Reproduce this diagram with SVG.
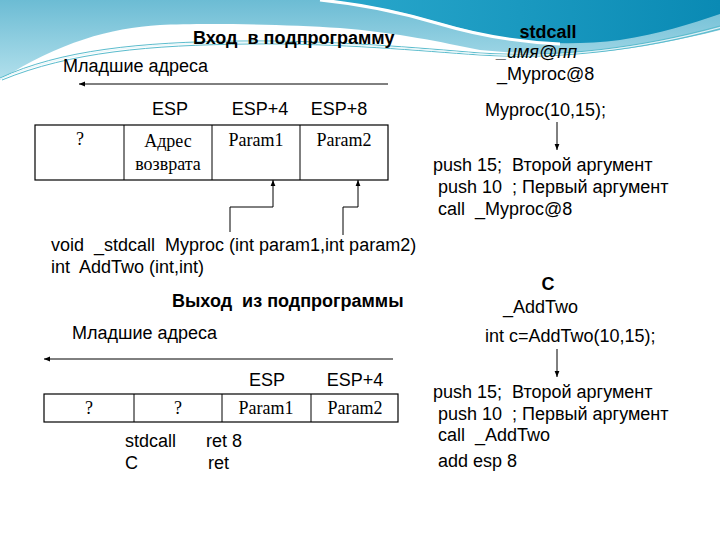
<svg xmlns="http://www.w3.org/2000/svg" width="720" height="540" viewBox="0 0 720 540">
<defs>
<linearGradient id="lb" x1="0" y1="0" x2="0" y2="1">
<stop offset="0" stop-color="#6cbcd4"/>
<stop offset="1" stop-color="#b2e0ec"/>
</linearGradient>
<linearGradient id="db" x1="0" y1="0" x2="1" y2="0">
<stop offset="0" stop-color="#2aa8cc"/>
<stop offset="1" stop-color="#0a8ab4"/>
</linearGradient>
<marker id="ah" viewBox="0 0 10 10" refX="10" refY="5" markerWidth="6" markerHeight="6" orient="auto" markerUnits="userSpaceOnUse">
<path d="M0,1 L10,5 L0,9 Z" fill="#000"/>
</marker>
<style>
text{white-space:pre}
.t{font-family:"Liberation Sans",Arial,sans-serif;font-size:18px;fill:#000}
.b{font-weight:bold}
.i{font-style:italic}
.s{font-family:"Liberation Serif","Times New Roman",serif;font-size:18px;fill:#000}
.c{fill:#fff;stroke:#000;stroke-width:1.2}
.ln{fill:none;stroke:#000;stroke-width:1}
.w{fill:none;stroke:#5bbccd;stroke-width:1}
</style>
</defs>
<rect width="720" height="540" fill="#fff"/>
<g id="background">
<path d="M0,0 H720 V30 C680,40 640,48 600,52 C560,55 520,54 480,50 C440,42 400,33 340,28 C280,24 200,23 160,25 C110,28 60,42 0,80 Z" fill="url(#lb)"/>
<path d="M320,0 H720 V14 C690,24 660,34 620,40 C590,44 560,44 530,42 C490,38 440,22 400,12 C370,6 350,2 320,0 Z" fill="url(#db)"/>
<path d="M320,0 C360,4 400,12 440,24 C480,36 520,42 560,44" fill="none" stroke="#fff" stroke-width="3"/>
<path class="w" d="M0,78 C60,50 140,42 240,41 C330,40 420,48 480,53 C560,58 640,48 720,26"/>
<path class="w" d="M2,80 C70,52 150,45 250,44 C340,43 420,51 480,55 C560,60 640,50 720,29"/>
<path d="M0,79 C65,51 145,43 245,42.5 C335,41.5 420,49.5 480,54 C560,59 640,49 720,27.5" fill="none" stroke="#e8f6f9" stroke-width="1"/>
</g>
<g id="entry-title"><text class="t b" x="193" y="44">Вход  в подпрограмму</text></g>
<g id="entry-low"><text class="t" x="63" y="72">Младшие адреса</text></g>
<g id="entry-esp">
<text class="t" x="170" y="115" text-anchor="middle">ESP</text>
<text class="t" x="260" y="115" text-anchor="middle">ESP+4</text>
<text class="t" x="339" y="115" text-anchor="middle">ESP+8</text>
</g>
<g id="stack1">
<rect class="c" x="35" y="125" width="353" height="55"/>
<line class="ln" x1="124" y1="125" x2="124" y2="180"/>
<line class="ln" x1="212" y1="125" x2="212" y2="180"/>
<line class="ln" x1="300" y1="125" x2="300" y2="180"/>
<text class="s" x="80" y="145" text-anchor="middle">?</text>
<text class="s" x="168" y="147" text-anchor="middle">Адрес</text>
<text class="s" x="168" y="170" text-anchor="middle">возврата</text>
<text class="s" x="256" y="146" text-anchor="middle">Param1</text>
<text class="s" x="344" y="146" text-anchor="middle">Param2</text>
</g>
<g id="decl">
<text class="t" x="51" y="251">void  _stdcall  Myproc (int param1,int param2)</text>
<text class="t" x="51" y="273">int  AddTwo (int,int)</text>
</g>
<g id="exit-title"><text class="t b" x="172" y="307">Выход  из подпрограммы</text></g>
<g id="exit-low"><text class="t" x="72" y="339">Младшие адреса</text></g>
<g id="exit-esp">
<text class="t" x="267" y="386" text-anchor="middle">ESP</text>
<text class="t" x="355" y="386" text-anchor="middle">ESP+4</text>
</g>
<g id="stack2">
<rect class="c" x="44" y="394" width="354" height="28"/>
<line class="ln" x1="134" y1="394" x2="134" y2="422"/>
<line class="ln" x1="222" y1="394" x2="222" y2="422"/>
<line class="ln" x1="311" y1="394" x2="311" y2="422"/>
<text class="s" x="89" y="414" text-anchor="middle">?</text>
<text class="s" x="178" y="414" text-anchor="middle">?</text>
<text class="s" x="266" y="414" text-anchor="middle">Param1</text>
<text class="s" x="355" y="414" text-anchor="middle">Param2</text>
</g>
<g id="ret">
<text class="t" x="125" y="447">stdcall</text>
<text class="t" x="206" y="447">ret 8</text>
<text class="t" x="125" y="469">C</text>
<text class="t" x="208" y="469">ret</text>
</g>
<g id="stdcall-head">
<text class="t b" x="548" y="38" text-anchor="middle">stdcall</text>
<text class="t i" x="497" y="58">_имя@пп</text>
<text class="t" x="497" y="80">_Myproc@8</text>
</g>
<g id="stdcall-call"><text class="t" x="485" y="116">Myproc(10,15);</text></g>
<g id="stdcall-asm">
<text class="t" x="433" y="171">push 15;  Второй аргумент</text>
<text class="t" x="433" y="193"> push 10  ; Первый аргумент</text>
<text class="t" x="433" y="215"> call  _Myproc@8</text>
</g>
<g id="c-head">
<text class="t b" x="548" y="290" text-anchor="middle">C</text>
<text class="t" x="503" y="313">_AddTwo</text>
</g>
<g id="c-call"><text class="t" x="485" y="342">int c=AddTwo(10,15);</text></g>
<g id="c-asm">
<text class="t" x="433" y="398">push 15;  Второй аргумент</text>
<text class="t" x="433" y="420"> push 10  ; Первый аргумент</text>
<text class="t" x="433" y="441"> call  _AddTwo</text>
<text class="t" x="433" y="467"> add esp 8</text>
</g>
<g id="connectors">
<line class="ln" x1="388" y1="84" x2="79" y2="84" marker-end="url(#ah)"/>
<line class="ln" x1="393" y1="359" x2="44" y2="359" marker-end="url(#ah)"/>
<polyline class="ln" points="230,232 230,207 273,207 273,180" marker-end="url(#ah)"/>
<polyline class="ln" points="343,235 343,207 358,207 358,180" marker-end="url(#ah)"/>
<line class="ln" x1="557" y1="122" x2="557" y2="150" marker-end="url(#ah)"/>
<line class="ln" x1="557" y1="349" x2="557" y2="377" marker-end="url(#ah)"/>
</g>
</svg>
